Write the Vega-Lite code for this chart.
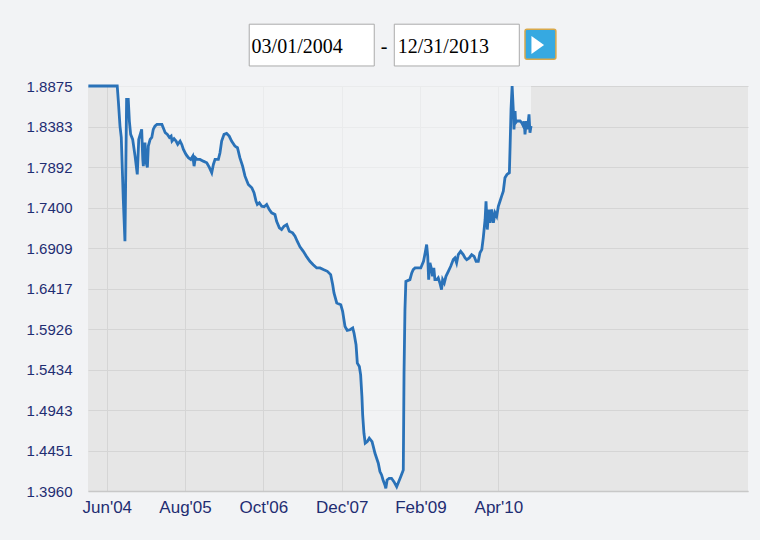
{
  "$schema": "https://vega.github.io/schema/vega-lite/v6.json",
  "width": 660,
  "height": 405,
  "autosize": {"type": "none"},
  "padding": {"left": 88, "top": 86, "right": 12, "bottom": 49},
  "background": "#f2f3f5",
  "config": {
    "view": {"fill": "#e6e6e6", "stroke": null},
    "axis": {"labelFont": "Liberation Sans", "labelColor": "#1f2d72", "gridColor": "#d5d5d5", "ticks": false, "title": null, "zindex": 0}
  },
  "data": {"values": [
    {"date": "2004-02-22", "rate": 1.8875},
    {"date": "2004-07-28", "rate": 1.8875},
    {"date": "2004-08-03", "rate": 1.8693},
    {"date": "2004-08-12", "rate": 1.8389},
    {"date": "2004-08-19", "rate": 1.8251},
    {"date": "2004-08-30", "rate": 1.7498},
    {"date": "2004-09-08", "rate": 1.6991},
    {"date": "2004-09-17", "rate": 1.8713},
    {"date": "2004-09-26", "rate": 1.8713},
    {"date": "2004-10-02", "rate": 1.8450},
    {"date": "2004-10-09", "rate": 1.8288},
    {"date": "2004-10-20", "rate": 1.8227},
    {"date": "2004-11-02", "rate": 1.8024},
    {"date": "2004-11-14", "rate": 1.7802},
    {"date": "2004-11-22", "rate": 1.8227},
    {"date": "2004-12-08", "rate": 1.8349},
    {"date": "2004-12-14", "rate": 1.7984},
    {"date": "2004-12-17", "rate": 1.7902},
    {"date": "2004-12-26", "rate": 1.8187},
    {"date": "2005-01-01", "rate": 1.7947},
    {"date": "2005-01-08", "rate": 1.7887},
    {"date": "2005-01-13", "rate": 1.8146},
    {"date": "2005-01-23", "rate": 1.8227},
    {"date": "2005-02-01", "rate": 1.8251},
    {"date": "2005-02-09", "rate": 1.8349},
    {"date": "2005-02-18", "rate": 1.8389},
    {"date": "2005-03-01", "rate": 1.8409},
    {"date": "2005-03-28", "rate": 1.8409},
    {"date": "2005-04-15", "rate": 1.8308},
    {"date": "2005-04-27", "rate": 1.8288},
    {"date": "2005-05-08", "rate": 1.8251},
    {"date": "2005-05-17", "rate": 1.8267},
    {"date": "2005-05-22", "rate": 1.8206},
    {"date": "2005-06-02", "rate": 1.8236},
    {"date": "2005-06-13", "rate": 1.8206},
    {"date": "2005-06-22", "rate": 1.8166},
    {"date": "2005-07-05", "rate": 1.8206},
    {"date": "2005-07-14", "rate": 1.8166},
    {"date": "2005-07-23", "rate": 1.8105},
    {"date": "2005-08-06", "rate": 1.8045},
    {"date": "2005-08-19", "rate": 1.8005},
    {"date": "2005-09-01", "rate": 1.7984},
    {"date": "2005-09-12", "rate": 1.8024},
    {"date": "2005-09-19", "rate": 1.7902},
    {"date": "2005-09-26", "rate": 1.8005},
    {"date": "2005-10-06", "rate": 1.7984},
    {"date": "2005-10-21", "rate": 1.7984},
    {"date": "2005-11-08", "rate": 1.7963},
    {"date": "2005-11-27", "rate": 1.7944},
    {"date": "2005-12-11", "rate": 1.7887},
    {"date": "2005-12-24", "rate": 1.7822},
    {"date": "2006-01-02", "rate": 1.7923},
    {"date": "2006-01-11", "rate": 1.7984},
    {"date": "2006-01-29", "rate": 1.7984},
    {"date": "2006-02-07", "rate": 1.8065},
    {"date": "2006-02-16", "rate": 1.8206},
    {"date": "2006-03-01", "rate": 1.8288},
    {"date": "2006-03-15", "rate": 1.8300},
    {"date": "2006-03-29", "rate": 1.8267},
    {"date": "2006-04-11", "rate": 1.8206},
    {"date": "2006-04-29", "rate": 1.8146},
    {"date": "2006-05-13", "rate": 1.8126},
    {"date": "2006-05-26", "rate": 1.8005},
    {"date": "2006-06-10", "rate": 1.7902},
    {"date": "2006-06-23", "rate": 1.7781},
    {"date": "2006-07-11", "rate": 1.7680},
    {"date": "2006-07-30", "rate": 1.7640},
    {"date": "2006-08-11", "rate": 1.7579},
    {"date": "2006-08-22", "rate": 1.7477},
    {"date": "2006-08-29", "rate": 1.7437},
    {"date": "2006-09-09", "rate": 1.7458},
    {"date": "2006-09-22", "rate": 1.7416},
    {"date": "2006-10-05", "rate": 1.7409},
    {"date": "2006-10-19", "rate": 1.7437},
    {"date": "2006-11-02", "rate": 1.7376},
    {"date": "2006-11-15", "rate": 1.7336},
    {"date": "2006-12-03", "rate": 1.7315},
    {"date": "2006-12-12", "rate": 1.7234},
    {"date": "2006-12-27", "rate": 1.7154},
    {"date": "2007-01-08", "rate": 1.7133},
    {"date": "2007-01-21", "rate": 1.7173},
    {"date": "2007-02-05", "rate": 1.7194},
    {"date": "2007-02-19", "rate": 1.7112},
    {"date": "2007-03-09", "rate": 1.7093},
    {"date": "2007-03-22", "rate": 1.7051},
    {"date": "2007-04-03", "rate": 1.6991},
    {"date": "2007-04-18", "rate": 1.6923},
    {"date": "2007-05-06", "rate": 1.6869},
    {"date": "2007-05-25", "rate": 1.6801},
    {"date": "2007-06-11", "rate": 1.6748},
    {"date": "2007-06-29", "rate": 1.6707},
    {"date": "2007-07-18", "rate": 1.6667},
    {"date": "2007-08-05", "rate": 1.6667},
    {"date": "2007-08-23", "rate": 1.6647},
    {"date": "2007-09-14", "rate": 1.6626},
    {"date": "2007-10-02", "rate": 1.6586},
    {"date": "2007-10-13", "rate": 1.6464},
    {"date": "2007-10-20", "rate": 1.6363},
    {"date": "2007-11-04", "rate": 1.6242},
    {"date": "2007-11-26", "rate": 1.6221},
    {"date": "2007-12-06", "rate": 1.6140},
    {"date": "2007-12-19", "rate": 1.5957},
    {"date": "2007-12-31", "rate": 1.5909},
    {"date": "2008-01-15", "rate": 1.5917},
    {"date": "2008-01-30", "rate": 1.5938},
    {"date": "2008-02-06", "rate": 1.5877},
    {"date": "2008-02-17", "rate": 1.5735},
    {"date": "2008-02-24", "rate": 1.5512},
    {"date": "2008-03-06", "rate": 1.5471},
    {"date": "2008-03-13", "rate": 1.5370},
    {"date": "2008-03-20", "rate": 1.5106},
    {"date": "2008-03-24", "rate": 1.4884},
    {"date": "2008-03-31", "rate": 1.4661},
    {"date": "2008-04-07", "rate": 1.4540},
    {"date": "2008-04-18", "rate": 1.4559},
    {"date": "2008-04-29", "rate": 1.4601},
    {"date": "2008-05-14", "rate": 1.4559},
    {"date": "2008-05-21", "rate": 1.4499},
    {"date": "2008-05-30", "rate": 1.4418},
    {"date": "2008-06-08", "rate": 1.4357},
    {"date": "2008-06-17", "rate": 1.4297},
    {"date": "2008-06-26", "rate": 1.4195},
    {"date": "2008-07-05", "rate": 1.4155},
    {"date": "2008-07-13", "rate": 1.4094},
    {"date": "2008-07-23", "rate": 1.4033},
    {"date": "2008-07-28", "rate": 1.3993},
    {"date": "2008-08-04", "rate": 1.4094},
    {"date": "2008-08-15", "rate": 1.4114},
    {"date": "2008-08-28", "rate": 1.4114},
    {"date": "2008-09-10", "rate": 1.4073},
    {"date": "2008-09-25", "rate": 1.4012},
    {"date": "2008-10-06", "rate": 1.4073},
    {"date": "2008-10-17", "rate": 1.4134},
    {"date": "2008-10-31", "rate": 1.4215},
    {"date": "2008-11-04", "rate": 1.5391},
    {"date": "2008-11-09", "rate": 1.6160},
    {"date": "2008-11-14", "rate": 1.6504},
    {"date": "2008-12-06", "rate": 1.6525},
    {"date": "2008-12-16", "rate": 1.6607},
    {"date": "2008-12-24", "rate": 1.6647},
    {"date": "2009-01-03", "rate": 1.6667},
    {"date": "2009-02-03", "rate": 1.6667},
    {"date": "2009-02-18", "rate": 1.6748},
    {"date": "2009-02-27", "rate": 1.6850},
    {"date": "2009-03-07", "rate": 1.6951},
    {"date": "2009-03-13", "rate": 1.6808},
    {"date": "2009-03-18", "rate": 1.6525},
    {"date": "2009-03-25", "rate": 1.6728},
    {"date": "2009-04-03", "rate": 1.6647},
    {"date": "2009-04-08", "rate": 1.6565},
    {"date": "2009-04-15", "rate": 1.6667},
    {"date": "2009-04-21", "rate": 1.6525},
    {"date": "2009-05-01", "rate": 1.6525},
    {"date": "2009-05-09", "rate": 1.6546},
    {"date": "2009-05-18", "rate": 1.6485},
    {"date": "2009-05-27", "rate": 1.6403},
    {"date": "2009-06-02", "rate": 1.6525},
    {"date": "2009-06-11", "rate": 1.6485},
    {"date": "2009-06-20", "rate": 1.6565},
    {"date": "2009-07-03", "rate": 1.6626},
    {"date": "2009-07-16", "rate": 1.6687},
    {"date": "2009-07-30", "rate": 1.6768},
    {"date": "2009-08-08", "rate": 1.6789},
    {"date": "2009-08-17", "rate": 1.6728},
    {"date": "2009-08-26", "rate": 1.6829},
    {"date": "2009-09-08", "rate": 1.6869},
    {"date": "2009-09-22", "rate": 1.6829},
    {"date": "2009-10-02", "rate": 1.6789},
    {"date": "2009-10-11", "rate": 1.6768},
    {"date": "2009-10-25", "rate": 1.6789},
    {"date": "2009-11-07", "rate": 1.6829},
    {"date": "2009-11-20", "rate": 1.6808},
    {"date": "2009-12-01", "rate": 1.6748},
    {"date": "2009-12-13", "rate": 1.6748},
    {"date": "2009-12-22", "rate": 1.6850},
    {"date": "2010-01-01", "rate": 1.6890},
    {"date": "2010-01-09", "rate": 1.7032},
    {"date": "2010-01-19", "rate": 1.7255},
    {"date": "2010-01-24", "rate": 1.7477},
    {"date": "2010-01-31", "rate": 1.7133},
    {"date": "2010-02-08", "rate": 1.7376},
    {"date": "2010-02-15", "rate": 1.7214},
    {"date": "2010-02-24", "rate": 1.7376},
    {"date": "2010-03-05", "rate": 1.7214},
    {"date": "2010-03-14", "rate": 1.7336},
    {"date": "2010-03-23", "rate": 1.7295},
    {"date": "2010-04-01", "rate": 1.7416},
    {"date": "2010-04-10", "rate": 1.7477},
    {"date": "2010-04-19", "rate": 1.7538},
    {"date": "2010-04-28", "rate": 1.7599},
    {"date": "2010-05-07", "rate": 1.7761},
    {"date": "2010-05-18", "rate": 1.7802},
    {"date": "2010-05-31", "rate": 1.7822},
    {"date": "2010-06-04", "rate": 1.8146},
    {"date": "2010-06-09", "rate": 1.8592},
    {"date": "2010-06-15", "rate": 1.8875},
    {"date": "2010-06-22", "rate": 1.8552},
    {"date": "2010-06-25", "rate": 1.8349},
    {"date": "2010-07-01", "rate": 1.8571},
    {"date": "2010-07-04", "rate": 1.8430},
    {"date": "2010-07-11", "rate": 1.8450},
    {"date": "2010-07-28", "rate": 1.8450},
    {"date": "2010-08-06", "rate": 1.8430},
    {"date": "2010-08-15", "rate": 1.8389},
    {"date": "2010-08-20", "rate": 1.8446},
    {"date": "2010-08-24", "rate": 1.8288},
    {"date": "2010-08-31", "rate": 1.8450},
    {"date": "2010-09-06", "rate": 1.8349},
    {"date": "2010-09-15", "rate": 1.8531},
    {"date": "2010-09-20", "rate": 1.8308},
    {"date": "2010-09-26", "rate": 1.8389}
  ]},
  "layer": [
    {
      "mark": {"type": "area", "fill": "#fcfdff", "opacity": 0.55},
      "encoding": {
        "x": {"field": "date", "type": "temporal",
          "scale": {"type": "utc", "domain": [{"year": 2004, "month": 2, "date": 20, "utc": true}, {"year": 2013, "month": 12, "date": 19, "utc": true}]},
          "axis": {
            "values": [
              {"year": 2004, "month": 6, "date": 1, "utc": true},
              {"year": 2005, "month": 8, "date": 1, "utc": true},
              {"year": 2006, "month": 10, "date": 1, "utc": true},
              {"year": 2007, "month": 12, "date": 1, "utc": true},
              {"year": 2009, "month": 2, "date": 1, "utc": true},
              {"year": 2010, "month": 4, "date": 1, "utc": true}
            ],
            "labelExpr": "utcFormat(datum.value, \"%b'%y\")",
            "grid": true, "domain": true, "domainColor": "#c8c8c8", "domainWidth": 1.5,
            "labelPadding": 8, "labelFontSize": 17, "labelFlush": false
          }
        },
        "y": {"field": "rate", "type": "quantitative",
          "scale": {"domain": [1.396, 1.8875], "zero": false, "nice": false},
          "axis": {
            "values": [1.396, 1.4451, 1.4943, 1.5434, 1.5926, 1.6417, 1.6909, 1.74, 1.7892, 1.8383, 1.8875],
            "format": ".4f", "grid": true, "domain": false,
            "labelPadding": 16, "labelFontSize": 15
          }
        },
        "y2": {"datum": 1.8875}
      }
    },
    {
      "mark": {"type": "line", "color": "#2a72b8", "strokeWidth": 2.8, "strokeJoin": "miter"},
      "encoding": {
        "x": {"field": "date", "type": "temporal"},
        "y": {"field": "rate", "type": "quantitative"}
      }
    },
    {
      "data": {"values": [{}]},
      "mark": {"type": "rect", "fill": "#ffffff", "stroke": "#aaaaaa", "strokeWidth": 1},
      "encoding": {
        "x": {"datum": {"year": 2006, "month": 7, "date": 16, "utc": true}, "type": "temporal"},
        "x2": {"datum": {"year": 2008, "month": 5, "date": 26, "utc": true}},
        "y": {"datum": 1.9625, "type": "quantitative"},
        "y2": {"datum": 1.9118}
      }
    },
    {
      "data": {"values": [{}]},
      "mark": {"type": "rect", "fill": "#ffffff", "stroke": "#aaaaaa", "strokeWidth": 1},
      "encoding": {
        "x": {"datum": {"year": 2008, "month": 9, "date": 12, "utc": true}, "type": "temporal"},
        "x2": {"datum": {"year": 2010, "month": 7, "date": 24, "utc": true}},
        "y": {"datum": 1.9625, "type": "quantitative"},
        "y2": {"datum": 1.9118}
      }
    },
    {
      "data": {"values": [{}]},
      "mark": {"type": "rect", "fill": "#36a9e1", "stroke": "#d8a84a", "strokeWidth": 1.5, "cornerRadius": 2},
      "encoding": {
        "x": {"datum": {"year": 2010, "month": 8, "date": 24, "utc": true}, "type": "temporal"},
        "x2": {"datum": {"year": 2011, "month": 2, "date": 8, "utc": true}},
        "y": {"datum": 1.9564, "type": "quantitative"},
        "y2": {"datum": 1.92}
      }
    },
    {
      "data": {"values": [{}]},
      "mark": {"type": "point", "shape": "M-0.65,-1L0.75,0L-0.65,1Z", "filled": true, "fill": "#ffffff", "opacity": 1, "size": 324, "strokeWidth": 0},
      "encoding": {
        "x": {"datum": {"year": 2010, "month": 10, "date": 30, "utc": true}, "type": "temporal"},
        "y": {"datum": 1.9372, "type": "quantitative"}
      }
    },
    {
      "data": {"values": [{}]},
      "mark": {"type": "text", "align": "left", "baseline": "alphabetic", "font": "Liberation Serif", "fontSize": 20, "color": "#000000", "text": "03/01/2004"},
      "encoding": {
        "x": {"datum": {"year": 2006, "month": 7, "date": 29, "utc": true}, "type": "temporal"},
        "y": {"datum": 1.9281, "type": "quantitative"}
      }
    },
    {
      "data": {"values": [{}]},
      "mark": {"type": "text", "align": "left", "baseline": "alphabetic", "font": "Liberation Serif", "fontSize": 20, "color": "#000000", "text": "12/31/2013"},
      "encoding": {
        "x": {"datum": {"year": 2008, "month": 10, "date": 1, "utc": true}, "type": "temporal"},
        "y": {"datum": 1.9281, "type": "quantitative"}
      }
    },
    {
      "data": {"values": [{}]},
      "mark": {"type": "text", "align": "center", "baseline": "alphabetic", "font": "Liberation Serif", "fontSize": 20, "color": "#000000", "text": "-"},
      "encoding": {
        "x": {"datum": {"year": 2008, "month": 7, "date": 19, "utc": true}, "type": "temporal"},
        "y": {"datum": 1.9281, "type": "quantitative"}
      }
    }
  ]
}
